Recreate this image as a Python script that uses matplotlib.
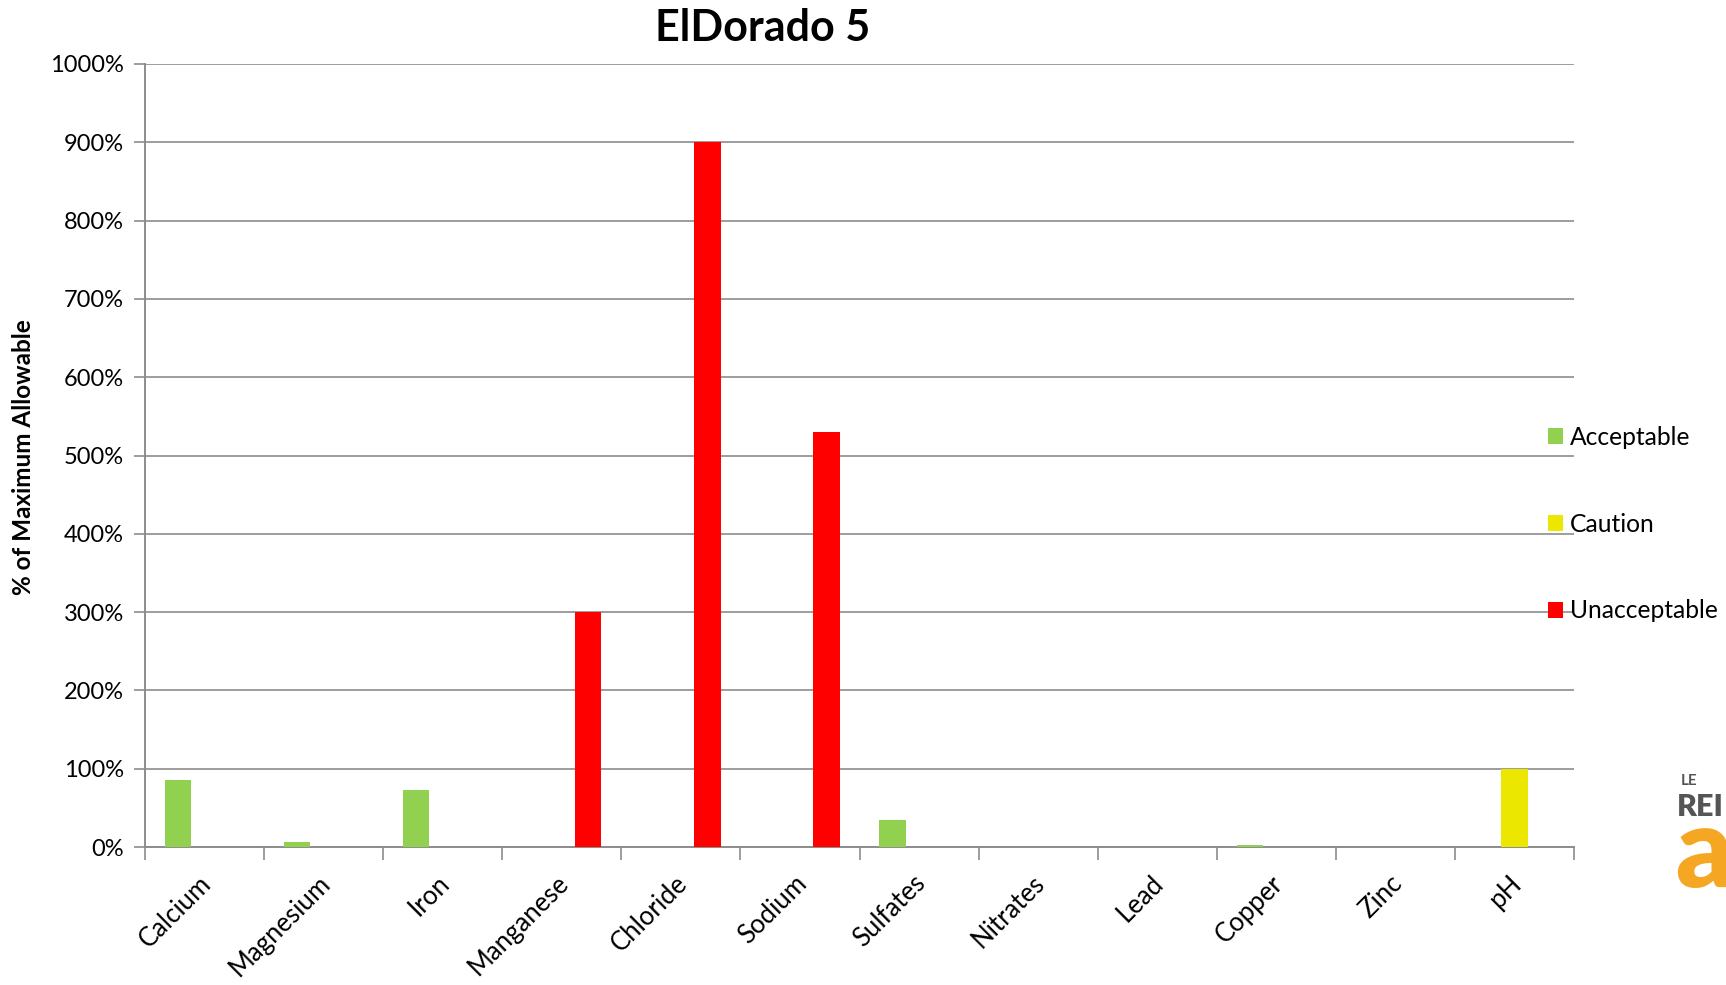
import matplotlib
matplotlib.use("Agg")
import matplotlib.pyplot as plt
from matplotlib.patches import Patch
from matplotlib.ticker import FixedLocator, FuncFormatter
import numpy as np

plt.rcParams['font.family'] = ['Lato', 'DejaVu Sans']

# Water test results, % of maximum allowable level
categories = ["Calcium", "Magnesium", "Iron", "Manganese", "Chloride", "Sodium",
              "Sulfates", "Nitrates", "Lead", "Copper", "Zinc", "pH"]
acceptable = [86, 6, 73, 0, 0, 0, 35, 0, 0, 2.5, 0.5, 0]
caution = [0, 0, 0, 0, 0, 0, 0, 0, 0, 0, 0, 100]
unacceptable = [0, 0, 0, 300, 900, 530, 0, 0, 0, 0, 0, 0]
series_names = ["Acceptable", "Caution", "Unacceptable"]
series_colors = ["#92D050", "#EBE700", "#FF0000"]
y_ticks = list(range(0, 1001, 100))

grid_color = "#8C8C8C"

fig = plt.figure(figsize=(17.26, 9.85), dpi=100)
ax = fig.add_axes([145 / 1726, 1 - 847 / 985, (1574 - 145) / 1726, (847 - 64) / 985])

x = np.arange(len(categories))
width = 1 / 4.5
for k, (vals, color) in enumerate(zip([acceptable, caution, unacceptable], series_colors)):
    ax.bar(x + (k - 1) * width, vals, width=width, color=color, zorder=3,
           label=series_names[k])

ax.set_xlim(-0.5, len(categories) - 0.5)
ax.set_ylim(0, 1000)

ax.yaxis.set_major_locator(FixedLocator(y_ticks))
ax.yaxis.set_major_formatter(FuncFormatter(lambda v, p: f"{int(v)}%"))
ax.grid(axis='y', color=grid_color, linewidth=1.2, zorder=0)
ax.set_axisbelow(True)

# category boundaries carry tick marks; the rotated labels sit just left of centre
label_nudge = 0.05
ax.set_xticks(np.arange(-0.5, len(categories), 1.0))
ax.set_xticklabels([])
ax.set_xticks(x - label_nudge, minor=True)
ax.set_xticklabels(categories, minor=True, rotation=45, ha='right', va='top',
                   rotation_mode='anchor', fontsize=18.5)
ax.tick_params(axis='x', which='major', length=9, width=1.2, color=grid_color)
ax.tick_params(axis='x', which='minor', length=0, pad=17)
ax.tick_params(axis='y', length=8, width=1.2, color=grid_color, labelsize=17, pad=7)

for side in ['top', 'right']:
    ax.spines[side].set_visible(False)
for side in ['left', 'bottom']:
    ax.spines[side].set_color(grid_color)
    ax.spines[side].set_linewidth(1.4)

fig.text(24 / 1726, 1 - 457 / 985, "% of Maximum Allowable", rotation=90,
         ha='center', va='center', fontsize=17.5, fontweight='bold')
fig.text(763 / 1726, 1 - 28 / 985, "ElDorado 5", ha='center', va='center',
         fontsize=31, fontweight='bold')

handles = [Patch(facecolor=c, edgecolor='none', label=n)
           for n, c in zip(series_names, series_colors)]
leg = fig.legend(handles=handles, loc='center left',
                 bbox_to_anchor=(1548 / 1726, 1 - 524 / 985), frameon=False,
                 fontsize=17.7, labelspacing=2.6, handlelength=0.6,
                 handleheight=0.6, handletextpad=0.3, borderpad=0,
                 borderaxespad=0)

# partial publisher mark at the lower right corner
fig.text(1681 / 1726, 1 - 785 / 985, "LE", fontsize=11, fontweight='bold',
         color="#555555", ha='left', va='baseline')
fig.text(1677 / 1726, 1 - 816 / 985, "REI", fontsize=22, fontweight='heavy',
         color="#555555", ha='left', va='baseline')
fig.text(1675 / 1726, 1 - 854 / 985, "a", fontsize=80, fontweight='heavy',
         color="#F5A623", ha='left', va='center')

fig.savefig("out.png", dpi=100)
